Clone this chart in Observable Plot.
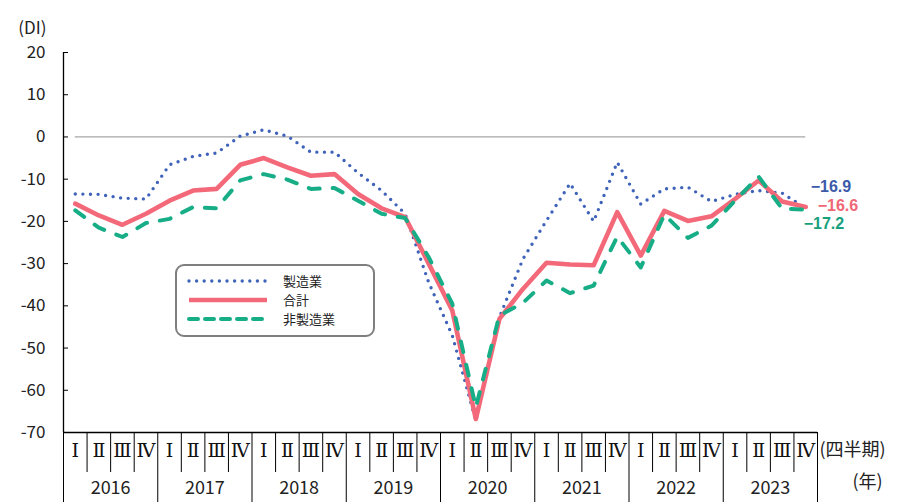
<!DOCTYPE html>
<html><head><meta charset="utf-8">
<script src="https://cdn.jsdelivr.net/npm/d3@7"></script>
<script src="https://cdn.jsdelivr.net/npm/@observablehq/plot@0.6"></script>
<style>
body{margin:0;background:#fff;}
#wrap{position:relative;width:899px;height:502px;overflow:hidden;font-family:"Noto Sans CJK JP","Noto Sans",sans-serif;}
#legend{position:absolute;left:175px;top:264px;width:196px;height:69px;border:2px solid #7f7f7f;border-radius:9px;background:#fff;}
#legend .row{position:absolute;left:10px;height:16px;display:flex;align-items:center;}
#legend .row span{display:block;margin-left:14px;font-size:13px;line-height:16px;height:16px;overflow:visible;color:#222;}
</style></head><body><div id="wrap"></div>
<script>
// ---- data ----
const years = ["2016","2017","2018","2019","2020","2021","2022","2023"];
const quarterLabels = ["Ⅰ","Ⅱ","Ⅲ","Ⅳ"];
const seriesNames = ["製造業","合計","非製造業"];
const seriesColors = ["#3f63b9","#f4697a","#17ae87"];
const labelColors = ["#3b5aa9","#ef6675","#16a07c"];
const manufacturing = [-13.5,-13.6,-14.5,-14.7,-6.6,-4.6,-3.8,0.2,1.7,0.2,-3.6,-3.6,-8.5,-12.7,-18.2,-34.5,-47.0,-67.2,-42.7,-28.9,-19.8,-11.0,-20.0,-6.0,-15.9,-12.3,-11.9,-15.3,-13.6,-12.7,-13.3,-16.9];
const total = [-15.8,-18.6,-20.8,-18.2,-15.1,-12.7,-12.3,-6.6,-5.0,-7.2,-9.2,-8.8,-13.5,-16.9,-19.0,-30.0,-41.1,-66.8,-43.1,-36.0,-29.8,-30.2,-30.4,-17.8,-28.1,-17.5,-19.9,-18.8,-14.7,-10.3,-15.3,-16.6];
const nonManufacturing = [-17.4,-21.5,-23.7,-20.4,-19.4,-16.6,-16.9,-10.3,-8.8,-10.1,-12.3,-12.1,-15.1,-18.2,-19.2,-28.5,-39.5,-64.0,-42.3,-39.3,-34.0,-37.0,-35.2,-23.6,-30.9,-18.4,-23.9,-21.0,-15.1,-9.4,-17.0,-17.2];
const yTicks = [20,10,0,-10,-20,-30,-40,-50,-60,-70];

// ---- build ----
const seriesValues = [manufacturing, total, nonManufacturing];
const n = total.length;
const idx = d3.range(n);
const rows = s => seriesValues[s].map((v, i) => ({i, v}));
const lastRows = seriesValues.map((vals, s) => ({i: n - 1, v: vals[n - 1], s}));
const fmt = v => (v < 0 ? "−" : "") + Math.abs(v).toFixed(1);
const jp = "Noto Sans CJK JP";
const serif = "DejaVu Serif, Liberation Serif, serif";
const edges = d3.range(n + 1).map(i => i - 0.5);
const quarterEdges = edges.filter((e, k) => k % 4 !== 0);
const yearEdges = edges.filter((e, k) => k % 4 === 0);

const chart = Plot.plot({
  width: 899, height: 502,
  marginLeft: 63, marginRight: 82, marginTop: 52, marginBottom: 70,
  style: {fontFamily: jp, background: "#fff", overflow: "visible"},
  x: {type: "linear", domain: [-0.5, n - 0.5], axis: null},
  y: {domain: [-70, 20], axis: null},
  marks: [
    Plot.ruleY([0], {x1: 0, x2: n - 1, stroke: "#a6a6a6", strokeWidth: 1.3}),
    Plot.axisY(yTicks, {tickSize: -5, tickPadding: 23, tickFormat: d => String(d), fontSize: 17, fill: "#222", stroke: "#000", label: null}),
    Plot.ruleX([-0.5], {stroke: "#000", strokeWidth: 1.3}),
    Plot.ruleY([-70], {stroke: "#000", strokeWidth: 1.3}),
    Plot.axisX(quarterEdges, {tickSize: 40, tickFormat: () => "", stroke: "#000", label: null}),
    Plot.axisX(yearEdges, {tickSize: 72, tickFormat: () => "", stroke: "#000", label: null}),
    Plot.axisX(idx, {tickSize: 0, tickPadding: 11, tickFormat: i => quarterLabels[i % 4], fontSize: 19, fontFamily: serif, fill: "#111", label: null}),
    Plot.axisX(years.map((y, k) => k * 4 + 1.5), {tickSize: 0, tickPadding: 49, tickFormat: (d, k) => years[k], fontSize: 18, fill: "#222", label: null}),
    Plot.text(["(四半期)"], {frameAnchor: "bottom-right", textAnchor: "start", dx: 2, dy: 23, fontSize: 18, fill: "#222"}),
    Plot.text(["(年)"], {frameAnchor: "bottom-right", textAnchor: "start", dx: 35, dy: 55, fontSize: 18, fill: "#222"}),
    Plot.text(["(DI)"], {frameAnchor: "top-left", textAnchor: "end", dx: -17, dy: -31, fontSize: 17, fill: "#222"}),
    Plot.line(rows(0), {x: "i", y: "v", stroke: seriesColors[0], strokeWidth: 3.4, strokeDasharray: "0 7.6", strokeLinecap: "round"}),
    Plot.line(rows(1), {x: "i", y: "v", stroke: seriesColors[1], strokeWidth: 4.6}),
    Plot.line(rows(2), {x: "i", y: "v", stroke: seriesColors[2], strokeWidth: 4, strokeDasharray: "11 13", strokeLinecap: "round"}),
    Plot.text([lastRows[0]], {x: "i", y: "v", text: d => fmt(d.v), textAnchor: "start", dx: 5, dy: -21, fontSize: 16, fontFamily: "Liberation Sans", fontWeight: 600, fill: labelColors[0]}),
    Plot.text([lastRows[1]], {x: "i", y: "v", text: d => fmt(d.v), textAnchor: "start", dx: 12, dy: -1, fontSize: 16, fontFamily: "Liberation Sans", fontWeight: 600, fill: labelColors[1]}),
    Plot.text([lastRows[2]], {x: "i", y: "v", text: d => fmt(d.v), textAnchor: "start", dx: -2, dy: 14, fontSize: 16, fontFamily: "Liberation Sans", fontWeight: 600, fill: labelColors[2]})
  ]
});
const wrap = document.getElementById("wrap");
wrap.appendChild(chart);

// legend
const legend = document.createElement("div");
legend.id = "legend";
const dashes = [{d: "0 7.6", w: 3.4, cap: "round"}, {d: null, w: 4.6, cap: "butt"}, {d: "9 7", w: 4, cap: "round"}];
const tops = [15, 34, 53];
seriesNames.forEach((name, s) => {
  const row = document.createElement("div");
  row.className = "row";
  row.style.top = (tops[s] - 8) + "px";
  const svg = d3.create("svg").attr("width", 82).attr("height", 16);
  svg.append("line").attr("x1", 2).attr("x2", 80).attr("y1", 8).attr("y2", 8)
    .attr("stroke", seriesColors[s]).attr("stroke-width", dashes[s].w)
    .attr("stroke-dasharray", dashes[s].d).attr("stroke-linecap", dashes[s].cap);
  row.appendChild(svg.node());
  const t = document.createElement("span");
  t.textContent = name;
  row.appendChild(t);
  legend.appendChild(row);
});
wrap.appendChild(legend);
</script></body></html>
